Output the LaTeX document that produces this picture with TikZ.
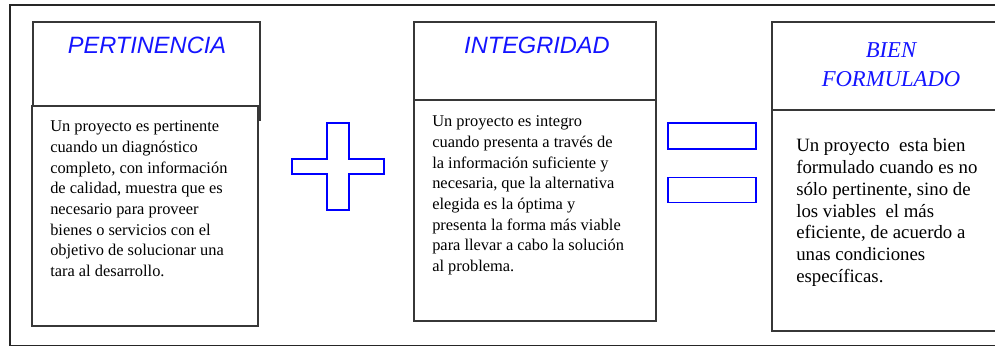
\documentclass[tikz,border=0pt]{standalone}
\usepackage{fontspec}
\setmainfont{Liberation Serif}
\newfontfamily\arialfont{Liberation Sans}
\usetikzlibrary{positioning}
\definecolor{titleblue}{RGB}{20,20,255}
\definecolor{edgegray}{RGB}{55,55,55}
\newcommand{\px}{0.75pt}
\tikzstyle{frame} = [draw=black!85, line width=1.4pt]
\tikzstyle{headbox} = [rectangle, 
draw=edgegray, 
line width=0.9pt, 
fill=white, 
inner sep=0pt, 
outer sep=0pt, 
anchor=north west]
\tikzstyle{bodybox} = [rectangle, 
draw=edgegray, 
line width=0.9pt, 
fill=white, 
inner sep=0pt, 
outer sep=0pt, 
anchor=north west]
% base of a multi-line node = baseline of its last line
\tikzstyle{bodytext} = [anchor=base west, 
align=left, 
inner sep=0pt, 
font=\fontsize{12.3pt}{15.5pt}\selectfont]
\tikzstyle{sanstitle} = [anchor=base, 
inner sep=0pt, 
text=titleblue, 
font=\arialfont\itshape\fontsize{17.7pt}{18pt}\selectfont]
\tikzstyle{serifitle} = [anchor=base, 
align=center, 
inner sep=0pt, 
text=titleblue, 
font=\itshape\fontsize{17pt}{21.75pt}\selectfont]
\tikzstyle{signbox} = [rectangle, 
draw=blue, 
line width=0.9pt, 
inner sep=0pt, 
minimum width=88*\px]

\begin{document}
\begin{tikzpicture}[x=0.75pt, y=-0.75pt]
\clip (0,0) rectangle (995,347);
\draw [frame] (10,5) rectangle (1010,345.5);

% pertinencia
\node (pertHead) [headbox, minimum width=227*\px, minimum height=98*\px] at (33,22) {};
\node (pertBody) [bodybox, minimum width=226*\px, minimum height=220*\px] at (32,106) {};
\node (pertTitle) [sanstitle] at (147,53) {PERTINENCIA};
\node (pertText) [bodytext] at (50,276.6) {Un proyecto es pertinente\\ cuando un diagnóstico\\ completo, con información\\ de calidad, muestra que es\\ necesario para proveer\\ bienes o servicios con el\\ objetivo de solucionar una\\ tara al desarrollo.};

% plus
\draw [draw=blue, line width=0.9pt] (327,123) -- (349,123) -- (349,159) -- (384,159) -- (384,174) -- (349,174)
  -- (349,210) -- (327,210) -- (327,174) -- (292,174) -- (292,159) -- (327,159) -- cycle;

% integridad
\node (integHead) [headbox, minimum width=242*\px, minimum height=78*\px] at (414,22) {};
\node (integBody) [bodybox, minimum width=242*\px, minimum height=221*\px] at (integHead.south west) {};
\node (integTitle) [sanstitle] at (537,53) {INTEGRIDAD};
\node (integText) [bodytext] at (432,271.6) {Un proyecto es integro\\ cuando presenta a través de\\ la información suficiente y\\ necesaria, que la alternativa\\ elegida es la óptima y\\ presenta la forma más viable\\ para llevar a cabo la solución\\ al problema.};

% igual
\node (eqTop) [signbox, minimum height=26*\px] at (712,136) {};
\node (eqBot) [signbox, minimum height=25*\px, below=27*\px of eqTop] {};

% bien formulado
\node (bienHead) [headbox, minimum width=238*\px, minimum height=88*\px] at (772,22) {};
\node (bienBody) [bodybox, minimum width=238*\px, minimum height=221*\px] at (bienHead.south west) {};
\node (bienTitle) [serifitle] at (891,86) {BIEN\\ FORMULADO};
\node (bienText) [bodytext, font=\fontsize{14.1pt}{16.35pt}\selectfont] at (796,282.5) {Un proyecto\ \ esta bien\\ formulado cuando es no\\ sólo pertinente, sino de\\ los viables\ \ el más\\ eficiente, de acuerdo a\\ unas condiciones\\ específicas.};
\end{tikzpicture}
\end{document}
